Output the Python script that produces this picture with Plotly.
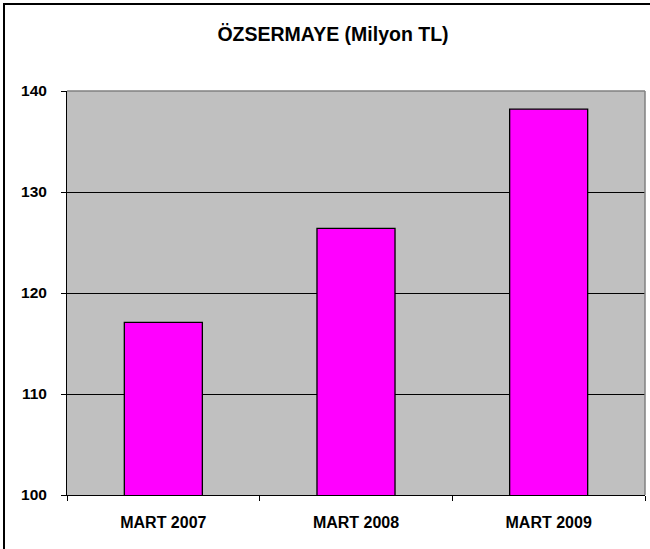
import plotly.graph_objects as go

categories = ["MART 2007", "MART 2008", "MART 2009"]
values = [117.1, 126.4, 138.2]
title_text = "ÖZSERMAYE (Milyon TL)"
y_ticks = [100, 110, 120, 130, 140]

W, H = 650, 549
L, R, T, B = 67, 5, 91, 54
pw, ph = W - L - R, H - T - B

def px_x(p):
    return (p - L) / pw

def px_y(p):
    return (H - B - p) / ph

fig = go.Figure(go.Bar(
    x=categories, y=values,
    marker=dict(color="#FF00FF", line=dict(color="black", width=1.3)),
))

font = "Arial, Liberation Sans, sans-serif"
fig.update_layout(
    width=W, height=H,
    margin=dict(l=L, r=R, t=T, b=B),
    paper_bgcolor="white", plot_bgcolor="#C0C0C0",
    bargap=0.595, showlegend=False,
    title=dict(text=title_text, x=333 / W, xanchor="center",
               y=1 - 34 / H, yanchor="middle",
               font=dict(family=font, size=19.5, color="black", weight="bold")),
    font=dict(family=font, color="black"),
)
fig.update_xaxes(
    showline=True, linecolor="black", linewidth=1,
    ticks="outside", ticklen=5, tickcolor="black", tickson="boundaries",
    showgrid=False,
    tickfont=dict(family=font, size=16, color="black", weight="bold"),
    ticklabelstandoff=13,
)
fig.update_yaxes(
    range=[100, 140], tickvals=y_ticks,
    showline=True, linecolor="black", linewidth=1,
    ticks="outside", ticklen=5, tickcolor="black",
    showgrid=True, gridcolor="black", gridwidth=1,
    zeroline=False,
    tickfont=dict(family=font, size=15.5, color="black", weight="bold"),
    ticklabelstandoff=11,
)
# plot area top/right border (gray)
fig.add_shape(type="line", xref="paper", yref="paper", x0=0, x1=1, y0=1, y1=1,
              line=dict(color="#808080", width=1.5), layer="above")
fig.add_shape(type="line", xref="paper", yref="paper", x0=1, x1=1, y0=0, y1=1,
              line=dict(color="#808080", width=1.5), layer="above")
# outer chart border (top and left visible)
fig.add_shape(type="rect", xref="paper", yref="paper",
              x0=px_x(4), x1=px_x(W + 20), y0=px_y(H + 20), y1=px_y(4),
              line=dict(color="black", width=2), layer="above")

fig.write_html("out.html", config={"displayModeBar": False},
               post_script="document.body.style.margin='0px';")
